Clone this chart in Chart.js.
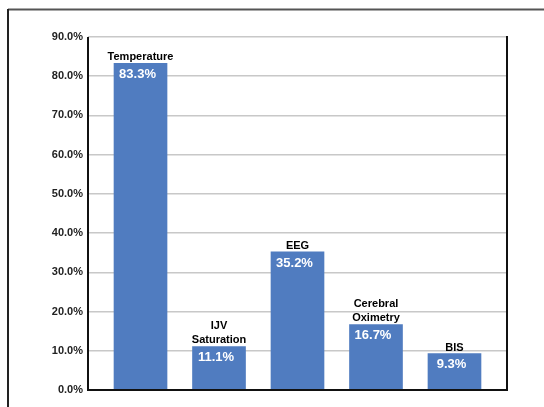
<!DOCTYPE html>
<html>
<head>
<meta charset="utf-8">
<script src="https://cdn.jsdelivr.net/npm/chart.js@4"></script>
<style>
  html, body { margin: 0; padding: 0; background: #fff; }
  canvas { display: block; }
</style>
</head>
<body>
<canvas id="monitorChart" width="544" height="407"></canvas>
<script>
// ── DATA ─────────────────────────────────────
const categories = [
  ["Temperature"],
  ["IJV", "Saturation"],
  ["EEG"],
  ["Cerebral", "Oximetry"],
  ["BIS"]
];
const percentages = [83.3, 11.1, 35.2, 16.7, 9.3];
const yTicks = [0, 10, 20, 30, 40, 50, 60, 70, 80, 90];

const BAR_BLUE = "#507cc0";
const LABEL_FONT = "bold 11px 'Liberation Sans', Arial, sans-serif";
const VALUE_FONT = "bold 13px 'Liberation Sans', Arial, sans-serif";

// ── FRAME: outer box + black axis lines ──────
const framePlugin = {
  id: "frame",
  beforeDraw(chart) {
    const ctx = chart.ctx;
    ctx.save();
    ctx.fillStyle = "#fff";
    ctx.fillRect(0, 0, chart.width, chart.height);

    ctx.strokeStyle = "#555";
    ctx.lineWidth = 2;
    ctx.beginPath();
    ctx.moveTo(8, 9.5);
    ctx.lineTo(chart.width, 9.5);
    ctx.stroke();

    ctx.strokeStyle = "#222";
    ctx.beginPath();
    ctx.moveTo(8, 9);
    ctx.lineTo(8, chart.height);
    ctx.stroke();
    ctx.restore();
  },
  afterDatasetsDraw(chart) {
    const { left, right, top, bottom } = chart.chartArea;
    const ctx = chart.ctx;
    ctx.save();
    ctx.strokeStyle = "#111";
    ctx.lineWidth = 2;
    ctx.beginPath();
    ctx.moveTo(left, top);
    ctx.lineTo(left, bottom);
    ctx.lineTo(right, bottom);
    ctx.lineTo(right, top - 1);
    ctx.stroke();
    ctx.restore();
  }
};

// ── BAR LABELS: name above, value inside ─────
const barLabelPlugin = {
  id: "barLabels",
  afterDatasetsDraw(chart) {
    const ctx = chart.ctx;
    const bars = chart.getDatasetMeta(0).data;
    ctx.save();
    ctx.textAlign = "center";
    bars.forEach((bar, i) => {
      const lines = categories[i];
      ctx.font = LABEL_FONT;
      ctx.fillStyle = "#000";
      ctx.textBaseline = "alphabetic";
      lines.forEach((line, j) => {
        const y = bar.y - 3 - (lines.length - 1 - j) * 14;
        ctx.fillText(line, bar.x, y);
      });

      ctx.font = VALUE_FONT;
      ctx.fillStyle = "#fff";
      ctx.textBaseline = "middle";
      ctx.fillText(percentages[i].toFixed(1) + "%", bar.x - 3, bar.y + 11);
    });
    ctx.restore();
  }
};

new Chart(document.getElementById("monitorChart"), {
  type: "bar",
  data: {
    datasets: [{
      data: percentages.map((v, i) => ({ x: i, y: v })),
      backgroundColor: BAR_BLUE,
      borderWidth: 0,
      barThickness: 53
    }]
  },
  options: {
    responsive: false,
    animation: false,
    layout: { padding: { left: 0, top: 37, right: 37, bottom: 17 } },
    plugins: {
      legend: { display: false },
      tooltip: { enabled: false }
    },
    scales: {
      x: {
        type: "linear",
        min: -0.669,
        max: 4.669,
        offset: false,
        display: false
      },
      y: {
        min: 0,
        max: 90,
        afterFit(scale) { scale.width = 88; },
        afterBuildTicks(scale) {
          scale.ticks = yTicks.map(v => ({ value: v }));
        },
        border: { display: false },
        grid: {
          color: "#c8c8c8",
          lineWidth: 1.5,
          drawTicks: false
        },
        ticks: {
          padding: 5,
          color: "#222",
          font: { family: "'Liberation Sans', Arial, sans-serif", size: 11, weight: "bold" },
          callback: v => v.toFixed(1) + "%"
        }
      }
    }
  },
  plugins: [framePlugin, barLabelPlugin]
});
</script>
</body>
</html>
